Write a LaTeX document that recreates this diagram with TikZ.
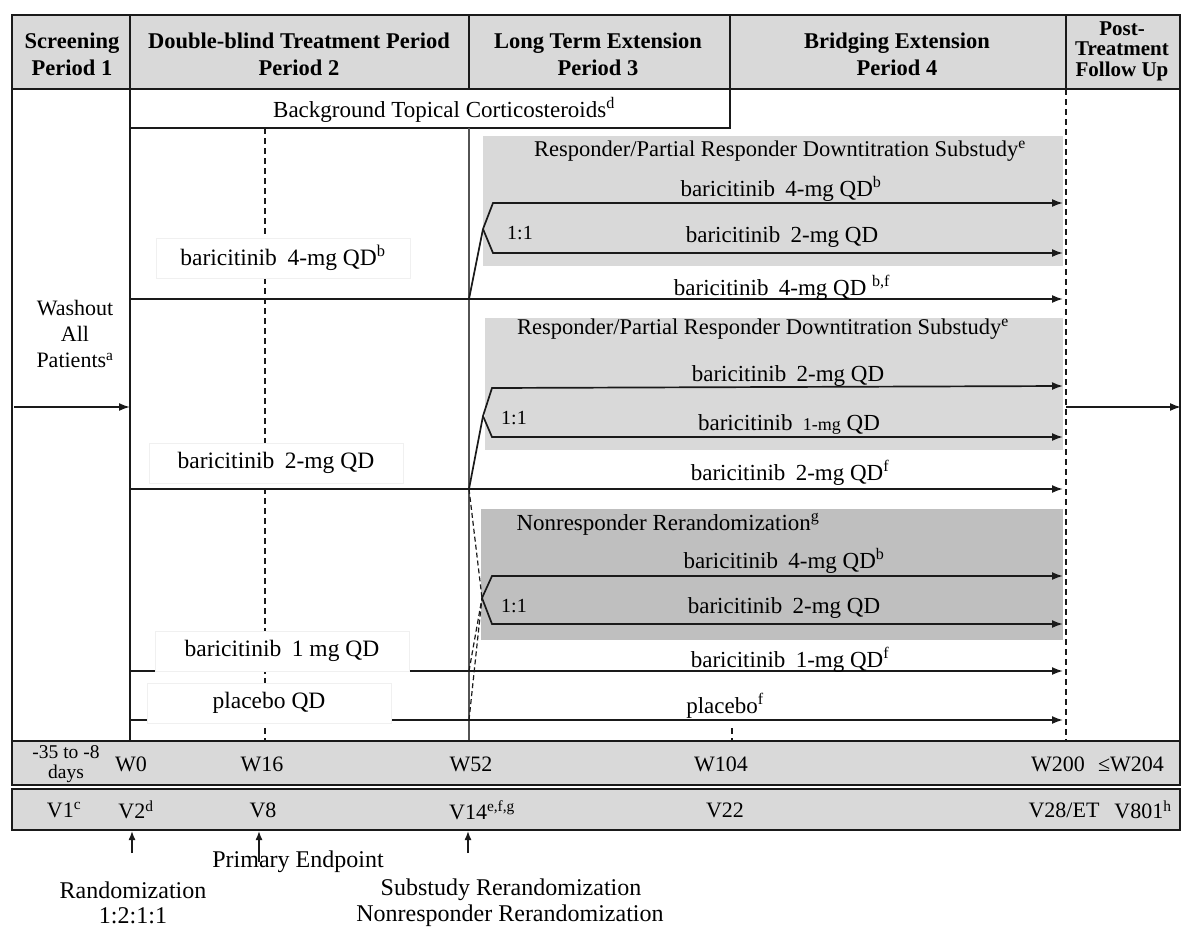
\documentclass[tikz,border=0pt]{standalone}
\usepackage{fontspec}
\setmainfont{Liberation Serif}
\usetikzlibrary{arrows.meta}
\definecolor{hdrgray}{HTML}{D9D9D9}
\definecolor{lightbox}{HTML}{D9D9D9}
\definecolor{darkbox}{HTML}{BFBFBF}
\definecolor{ink}{HTML}{1A1A1A}
\newcommand{\bari}[1]{baricitinib\hspace{0.45em}#1}
\begin{document}
\begin{tikzpicture}[x=1pt,y=-1pt,
  frameline/.style={draw=ink,line width=1.6pt},
  armline/.style={draw=ink,line width=1.7pt,-{Latex[length=11pt,width=8pt]}},
  segline/.style={draw=ink,line width=1.7pt},
  dashline/.style={draw=ink,line width=1.4pt,dash pattern=on 6pt off 4pt},
  hd/.style={font=\fontsize{22.5}{27}\selectfont\bfseries,align=center,inner sep=0},
  lb/.style={font=\fontsize{23}{27}\selectfont,inner sep=0},
  ttl/.style={font=\fontsize{22.5}{26}\selectfont,inner sep=0},
  leftlbl/.style={font=\fontsize{23.5}{28}\selectfont,fill=white,draw=black!6,line width=0.5pt,minimum width=254pt,minimum height=40pt,inner sep=0},
  wv/.style={font=\fontsize{22}{26}\selectfont,inner sep=0},
  bt/.style={font=\fontsize{24}{28}\selectfont,inner sep=0},
]
\useasboundingbox (0,0) rectangle (1181,929);

% ---------- header ----------
\draw[frameline,fill=hdrgray] (12,15) rectangle (1180,89);
\foreach \x in {130,469,730,1066} \draw[frameline] (\x,15) -- (\x,89);
\node[hd] (h1) at (72,54) {Screening\\Period 1};
\node[hd] (h2) at (299,54) {Double-blind Treatment Period\\Period 2};
\node[hd] (h3) at (598,54) {Long Term Extension\\Period 3};
\node[hd] (h4) at (897,54) {Bridging Extension\\Period 4};
\node[hd,font=\fontsize{21}{20.5}\selectfont\bfseries] (h5) at (1122,51) {Post-\\Treatment\\Follow Up};

% ---------- body frame ----------
\draw[frameline] (12,89) rectangle (1180,741);
\draw[frameline] (130,89) -- (130,741);
\draw[dashline] (1066,89) -- (1066,741);

% background corticosteroids
\draw[frameline,fill=white] (130,89) rectangle (730,128);
\node[ttl,font=\fontsize{23}{27}\selectfont] (bg) at (444,110) {Background Topical Corticosteroids\textsuperscript{d}};

% shaded substudy boxes
\fill[lightbox] (483,136) rectangle (1063,266);
\fill[lightbox] (485,318) rectangle (1063,450);
\fill[darkbox] (481,509) rectangle (1063,640);

% W16 dashed and W52 solid lines
\draw[dashline] (265,128) -- (265,741);
\draw[draw=ink!75,line width=1.2pt] (469,128) -- (469,741);
\draw[dashline] (732,728) -- (732,741);

% ---------- coordinates ----------
\coordinate (ws) at (14,407);
\coordinate (we) at (130,407);
\coordinate (ps) at (1066,407);
\coordinate (pe) at (1181,407);

\coordinate (s4) at (130,299);  \coordinate (e4) at (1063,299);  \coordinate (j4) at (469,299);
\coordinate (s2) at (130,489);  \coordinate (e2) at (1063,489);  \coordinate (j2) at (469,489);
\coordinate (s1) at (130,671);  \coordinate (e1) at (1063,671);  \coordinate (j1) at (469,671);
\coordinate (sp) at (130,720);  \coordinate (ep) at (1063,720);  \coordinate (jp) at (469,720);

\coordinate (apA) at (483,229);
\coordinate (uA) at (493,203); \coordinate (uAe) at (1063,203);
\coordinate (lA) at (493,253); \coordinate (lAe) at (1063,253);

\coordinate (apB) at (483,416);
\coordinate (uB) at (492,388); \coordinate (uBe) at (1063,386);
\coordinate (lB) at (492,437); \coordinate (lBe) at (1063,437);

\coordinate (apC) at (482,598);
\coordinate (uC) at (492,576); \coordinate (uCe) at (1063,576);
\coordinate (lC) at (492,624); \coordinate (lCe) at (1063,624);

% ---------- arms ----------
\draw[armline] (ws) -- (we);
\draw[armline] (ps) -- (pe);
\draw[armline] (s4) -- (e4);
\draw[armline] (s2) -- (e2);
\draw[armline] (s1) -- (e1);
\draw[armline] (sp) -- (ep);

\draw[segline] (j4) -- (apA);
\draw[armline] (apA) -- (uA) -- (uAe);
\draw[armline] (apA) -- (lA) -- (lAe);

\draw[segline] (j2) -- (apB);
\draw[armline] (apB) -- (uB) -- (uBe);
\draw[armline] (apB) -- (lB) -- (lBe);

\draw[dashline,line width=1.2pt,dash pattern=on 5pt off 3pt] (j2) -- (apC);
\draw[dashline,line width=1.2pt,dash pattern=on 5pt off 3pt] (j1) -- (apC);
\draw[dashline,line width=1.2pt,dash pattern=on 5pt off 3pt] (jp) -- (apC);
\draw[armline] (apC) -- (uC) -- (uCe);
\draw[armline] (apC) -- (lC) -- (lCe);

% ---------- left labels ----------
\node[font=\fontsize{22}{26}\selectfont,align=center,inner sep=0] (wash) at (75,334) {Washout\\All\\Patients\textsuperscript{a}};
\node[leftlbl] (L1) at (283,258) {\bari{4-mg QD}\textsuperscript{b}};
\node[leftlbl] (L2) at (276,463) {\bari{2-mg QD}};
\node[leftlbl] (L3) at (282,651) {\bari{1 mg QD}};
\node[leftlbl,minimum width=244pt] (L4) at (269,703) {placebo QD};

% ---------- right labels ----------
\node[ttl] (t1) at (780,151) {Responder/Partial Responder Downtitration Substudy\textsuperscript{e}};
\node[lb] (r1a) at (781,189) {\bari{4-mg QD}\textsuperscript{b}};
\node[lb] (r1b) at (782,237) {\bari{2-mg QD}};
\node[lb,font=\fontsize{20}{24}\selectfont] (c1) at (520,233) {1:1};
\node[lb] (r1c) at (782,288) {\bari{4-mg QD} \textsuperscript{b,f}};

\node[ttl] (t2) at (763,329) {Responder/Partial Responder Downtitration Substudy\textsuperscript{e}};
\node[lb] (r2a) at (788,376) {\bari{2-mg QD}};
\node[lb,font=\fontsize{20}{24}\selectfont] (c2) at (514,418) {1:1};
\node[lb] (r2b) at (789,424) {\bari{{\fontsize{18}{22}\selectfont 1-mg} QD}};
\node[lb] (r2c) at (790,473) {\bari{2-mg QD}\textsuperscript{f}};

\node[ttl,font=\fontsize{23}{26}\selectfont] (t3) at (668,524) {Nonresponder Rerandomization\textsuperscript{g}};
\node[lb] (r3a) at (784,561) {\bari{4-mg QD}\textsuperscript{b}};
\node[lb] (r3b) at (784,608) {\bari{2-mg QD}};
\node[lb,font=\fontsize{20}{24}\selectfont] (c3) at (514,606) {1:1};
\node[lb] (r3c) at (790,660) {\bari{1-mg QD}\textsuperscript{f}};
\node[lb] (r3d) at (725,706) {placebo\textsuperscript{f}};

% ---------- timeline rows ----------
\draw[frameline,fill=hdrgray] (12,741) rectangle (1180,785);
\draw[frameline,fill=hdrgray] (12,789) rectangle (1180,830);

\node[wv,font=\fontsize{19.5}{20}\selectfont] (d0a) at (66,752.5) {-35 to -8};
\node[wv,font=\fontsize{19.5}{20}\selectfont] (d0b) at (66,773.5) {days};
\node[wv] (w0) at (131,764) {W0};
\node[wv] (w16) at (262,764) {W16};
\node[wv] (w52) at (471,764) {W52};
\node[wv] (w104) at (721,764) {W104};
\node[wv] (w200) at (1058,764) {W200};
\node[wv] (w204) at (1131,764) {≤W204};

\node[wv] (v1) at (64,810) {V1\textsuperscript{c}};
\node[wv] (v2) at (136,810) {V2\textsuperscript{d}};
\node[wv] (v8) at (263,810) {V8};
\node[wv] (v14) at (482,810) {V14\textsuperscript{e,f,g}};
\node[wv] (v22) at (725,810) {V22};
\node[wv] (v28) at (1064,810) {V28/ET};
\node[wv] (v801) at (1143,810) {V801\textsuperscript{h}};

% ---------- bottom annotations ----------
\coordinate (ra) at (132,853); \coordinate (rat) at (132,831);
\coordinate (pa) at (259,862); \coordinate (pat) at (259,831);
\coordinate (sa) at (468,853); \coordinate (sat) at (468,831);
\draw[armline,line width=1.4pt,-{Latex[length=9pt,width=7pt]}] (ra) -- (rat);
\draw[armline,line width=1.4pt,-{Latex[length=9pt,width=7pt]}] (pa) -- (pat);
\draw[armline,line width=1.4pt,-{Latex[length=9pt,width=7pt]}] (sa) -- (sat);

\node[bt] (pe1) at (298,862) {Primary Endpoint};
\node[bt] (rand) at (133,890) {Randomization};
\node[bt] (rand2) at (133,916) {1:2:1:1};
\node[bt] (sub1) at (511,890) {Substudy Rerandomization};
\node[bt] (sub2) at (510,916) {Nonresponder Rerandomization};
\end{tikzpicture}
\end{document}
